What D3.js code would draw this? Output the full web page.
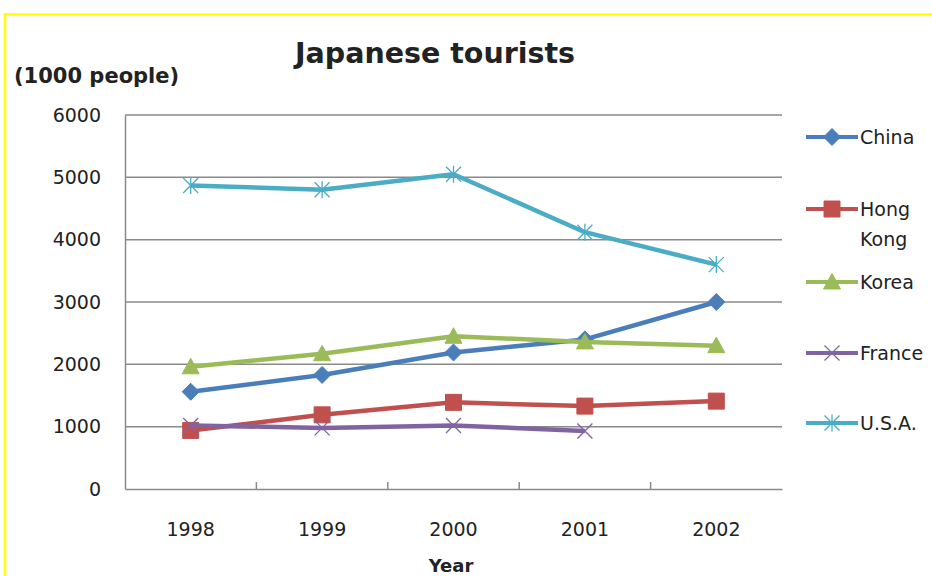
<!DOCTYPE html>
<html>
<head>
<meta charset="utf-8">
<script src="https://cdn.jsdelivr.net/npm/d3@7"></script>
<style>
  html, body { margin: 0; padding: 0; background: #fff; }
  svg { display: block; }
  text { font-family: "DejaVu Sans", sans-serif; fill: #222; }
</style>
</head>
<body>
<svg id="chart" width="932" height="576"></svg>
<script>
// Japanese tourists abroad, in thousands of people
const years = ["1998", "1999", "2000", "2001", "2002"];
const yTicks = [0, 1000, 2000, 3000, 4000, 5000, 6000];

const china    = [1560, 1830, 2190, 2400, 3000];
const hongKong = [940, 1190, 1390, 1330, 1410];
const korea    = [1960, 2170, 2450, 2360, 2300];
const france   = [1020, 980, 1020, 930, null];
const usa      = [4870, 4800, 5050, 4120, 3600];

const seriesNames = ["China", "Hong Kong", "Korea", "France", "U.S.A."];
const seriesValues = [china, hongKong, korea, france, usa];
const seriesColors = ["#4a7ebb", "#c0504d", "#9bbb59", "#8064a2", "#4bacc6"];
const seriesMarkers = ["diamond", "square", "triangle", "x", "star"];

const svg = d3.select("#chart");

// outer frame
svg.append("rect")
  .attr("x", 5).attr("y", 14.5)
  .attr("width", 960).attr("height", 600)
  .attr("fill", "none").attr("stroke", "#ffff00").attr("stroke-width", 2.5);

const plot = { left: 125, right: 782, top: 115, bottom: 489 };

const x = d3.scaleBand().domain(years).range([plot.left, plot.right]);
const y = d3.scaleLinear().domain([0, 6000]).range([plot.bottom, plot.top]);

// horizontal gridlines
svg.append("g")
  .selectAll("line")
  .data(yTicks.filter(d => d > 0))
  .join("line")
  .attr("x1", plot.left).attr("x2", plot.right)
  .attr("y1", d => y(d)).attr("y2", d => y(d))
  .attr("stroke", "#8a8a8a").attr("stroke-width", 1.5);

// y axis
const yAxis = svg.append("g")
  .attr("transform", `translate(${plot.left},0)`)
  .call(d3.axisLeft(y).tickValues(yTicks).tickSize(0).tickPadding(24).tickFormat(d3.format("d")));
yAxis.select(".domain").attr("stroke", "#8a8a8a").attr("stroke-width", 1.5);
yAxis.selectAll("text").style("font-size", "19px").attr("fill", "#222");

// x axis with inside ticks between categories
const xAxis = svg.append("g")
  .attr("transform", `translate(0,${plot.bottom})`)
  .call(d3.axisBottom(x).tickSize(0).tickPadding(34));
xAxis.select(".domain").attr("stroke", "#8a8a8a").attr("stroke-width", 1.5);
xAxis.selectAll("text").style("font-size", "19px").attr("fill", "#222");
svg.append("g")
  .selectAll("line")
  .data(years.slice(1))
  .join("line")
  .attr("x1", d => x(d)).attr("x2", d => x(d))
  .attr("y1", plot.bottom).attr("y2", plot.bottom - 7)
  .attr("stroke", "#8a8a8a").attr("stroke-width", 1.5);

// marker shapes
function markerPath(type) {
  switch (type) {
    case "diamond": return "M0,-8.5L8.5,0L0,8.5L-8.5,0Z";
    case "square": return "M-8,-8H8V8H-8Z";
    case "triangle": return "M0,-8.5L8.5,7H-8.5Z";
    case "x": return "M-7.5,-7.5L7.5,7.5M-7.5,7.5L7.5,-7.5";
    case "star": return "M-7.5,-7.5L7.5,7.5M-7.5,7.5L7.5,-7.5M0,-8.5V8.5";
  }
}
function drawMarker(g, type, color) {
  const filled = type === "diamond" || type === "square" || type === "triangle";
  g.append("path")
    .attr("d", markerPath(type))
    .attr("fill", filled ? color : "none")
    .attr("stroke", color)
    .attr("stroke-width", filled ? 1 : 1.3);
}

const line = d3.line()
  .defined(d => d.v != null)
  .x(d => x(d.year) + x.bandwidth() / 2)
  .y(d => y(d.v));

seriesValues.forEach((vals, i) => {
  const pts = years.map((yr, j) => ({ year: yr, v: vals[j] }));
  const g = svg.append("g");
  g.append("path")
    .datum(pts)
    .attr("d", line)
    .attr("fill", "none")
    .attr("stroke", seriesColors[i])
    .attr("stroke-width", 4.5)
    .attr("stroke-linejoin", "round");
  pts.filter(p => p.v != null).forEach(p => {
    const m = g.append("g")
      .attr("transform", `translate(${x(p.year) + x.bandwidth() / 2},${y(p.v)})`);
    drawMarker(m, seriesMarkers[i], seriesColors[i]);
  });
});

// titles
svg.append("text")
  .attr("x", 435).attr("y", 63)
  .attr("text-anchor", "middle")
  .style("font-size", "28.5px").style("font-weight", "bold")
  .attr("fill", "#111")
  .text("Japanese tourists");

svg.append("text")
  .attr("x", 14).attr("y", 83)
  .style("font-size", "21px").style("font-weight", "bold")
  .attr("fill", "#111")
  .text("(1000 people)");

svg.append("text")
  .attr("x", 451).attr("y", 572)
  .attr("text-anchor", "middle")
  .style("font-size", "18px").style("font-weight", "bold")
  .attr("fill", "#111")
  .text("Year");

// legend
const legendY = [137, 209, 282, 353, 423];
seriesNames.forEach((name, i) => {
  const g = svg.append("g").attr("transform", `translate(0,${legendY[i]})`);
  g.append("line")
    .attr("x1", 806).attr("x2", 858).attr("y1", 0).attr("y2", 0)
    .attr("stroke", seriesColors[i]).attr("stroke-width", 4);
  const m = g.append("g").attr("transform", "translate(832,0)");
  drawMarker(m, seriesMarkers[i], seriesColors[i]);
  const words = name === "Hong Kong" ? ["Hong", "Kong"] : [name];
  words.forEach((w, k) => {
    g.append("text")
      .attr("x", 860).attr("y", 7 + k * 30)
      .style("font-size", "19px")
      .text(w);
  });
});
</script>
</body>
</html>
